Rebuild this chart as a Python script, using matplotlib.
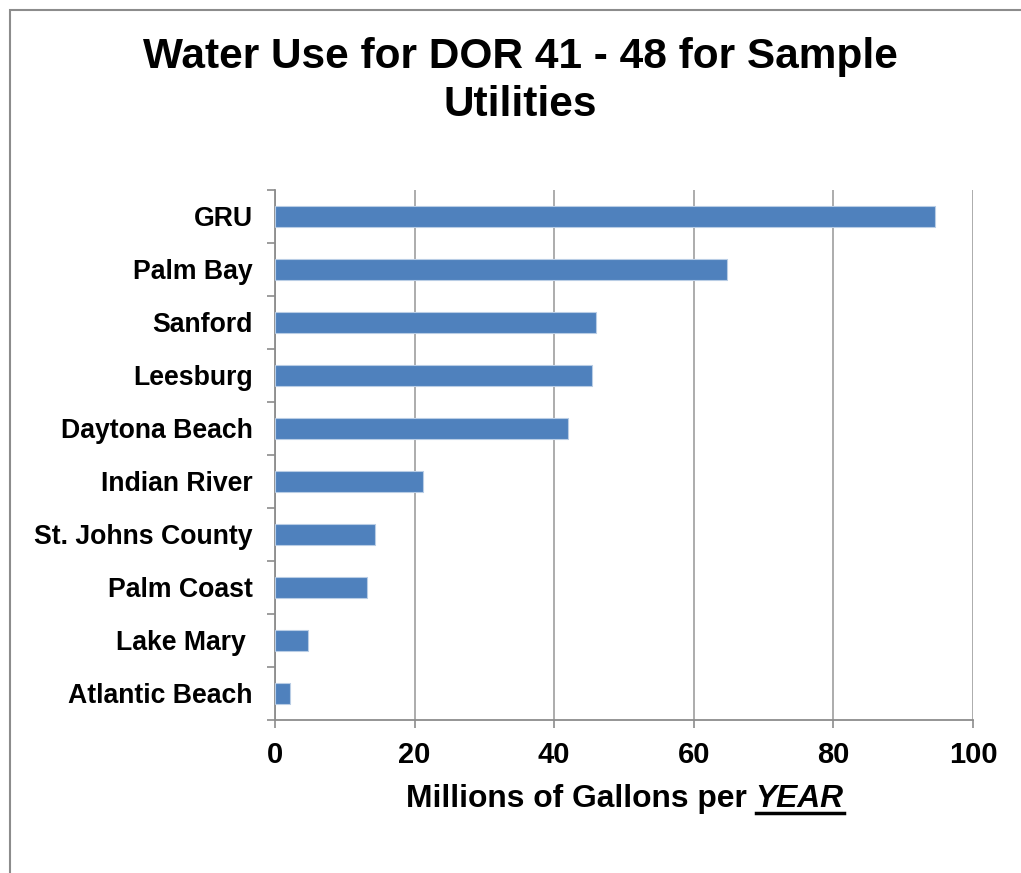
import matplotlib
matplotlib.use('Agg')
import matplotlib.pyplot as plt
from matplotlib.patches import Rectangle
from matplotlib.lines import Line2D

plt.rcParams['font.family'] = ['Liberation Sans', 'DejaVu Sans']

# utilities and yearly water use (millions of gallons)
utilities = ['GRU', 'Palm Bay', 'Sanford', 'Leesburg', 'Daytona Beach',
             'Indian River', 'St. Johns County', 'Palm Coast', 'Lake Mary ',
             'Atlantic Beach']
water_use = [94.6, 64.7, 46.0, 45.4, 42.0, 21.2, 14.3, 13.2, 4.7, 2.1]
x_ticks = [0, 20, 40, 60, 80, 100]

fig = plt.figure(figsize=(10.21, 8.73), dpi=100)
ax = fig.add_axes([0.2693, 0.1753, 0.6837, 0.6071])

ypos = list(range(len(utilities)))[::-1]
ax.barh(ypos, water_use, height=0.41, color='#4f81bd', edgecolor='#b9cde5',
        linewidth=0.8, zorder=3)

ax.set_xlim(0, 100)
ax.set_ylim(-0.5, len(utilities) - 0.5)
ax.set_xticks(x_ticks)
ax.set_xticklabels([str(t) for t in x_ticks], fontsize=21, fontweight='bold')
ax.set_yticks(ypos)
ax.set_yticklabels(utilities, fontsize=19.2, fontweight='bold')

# category boundary ticks on the y axis
ax.set_yticks([i - 0.5 for i in range(len(utilities) + 1)], minor=True)
ax.tick_params(axis='y', which='major', length=0, pad=16)
ax.tick_params(axis='y', which='minor', length=6, color='#8c8c8c', width=1.2)
ax.tick_params(axis='x', length=6, color='#8c8c8c', width=1.2, pad=9)

ax.grid(axis='x', color='#a6a6a6', linewidth=1.3, zorder=0)
for s in ['top', 'right']:
    ax.spines[s].set_visible(False)
for s in ['left', 'bottom']:
    ax.spines[s].set_color('#8c8c8c')
    ax.spines[s].set_linewidth(1.3)

fig.text(0.51, 1 - 81 / 873, 'Water Use for DOR 41 - 48 for Sample\nUtilities',
         ha='center', va='center', fontsize=30.5, fontweight='bold', linespacing=1.27)

# x axis label with italic, underlined YEAR
fig.canvas.draw()
renderer = fig.canvas.get_renderer()
lab_y = 1 - 799 / 873
t1 = fig.text(406 / 1021, lab_y, 'Millions of Gallons per ', ha='left', va='center',
              fontsize=22.9, fontweight='bold')
bb = t1.get_window_extent(renderer)
x2 = bb.x1 / fig.bbox.width
t2 = fig.text(x2, lab_y, 'YEAR', ha='left', va='center', fontsize=22.9,
              fontweight='bold', fontstyle='italic')
bb2 = t2.get_window_extent(renderer)
uy = (bb2.y0 + 1) / fig.bbox.height
fig.add_artist(Line2D([bb2.x0 / fig.bbox.width, bb2.x1 / fig.bbox.width], [uy, uy],
                      transform=fig.transFigure, color='black', linewidth=2.5))

# chart frame
fig.add_artist(Rectangle((10 / 1021, -0.05), 1.1, 1 - 10 / 873 + 0.05,
                         transform=fig.transFigure, fill=False,
                         edgecolor='#8c8c8c', linewidth=1.5))

fig.savefig('out.png', dpi=100)
